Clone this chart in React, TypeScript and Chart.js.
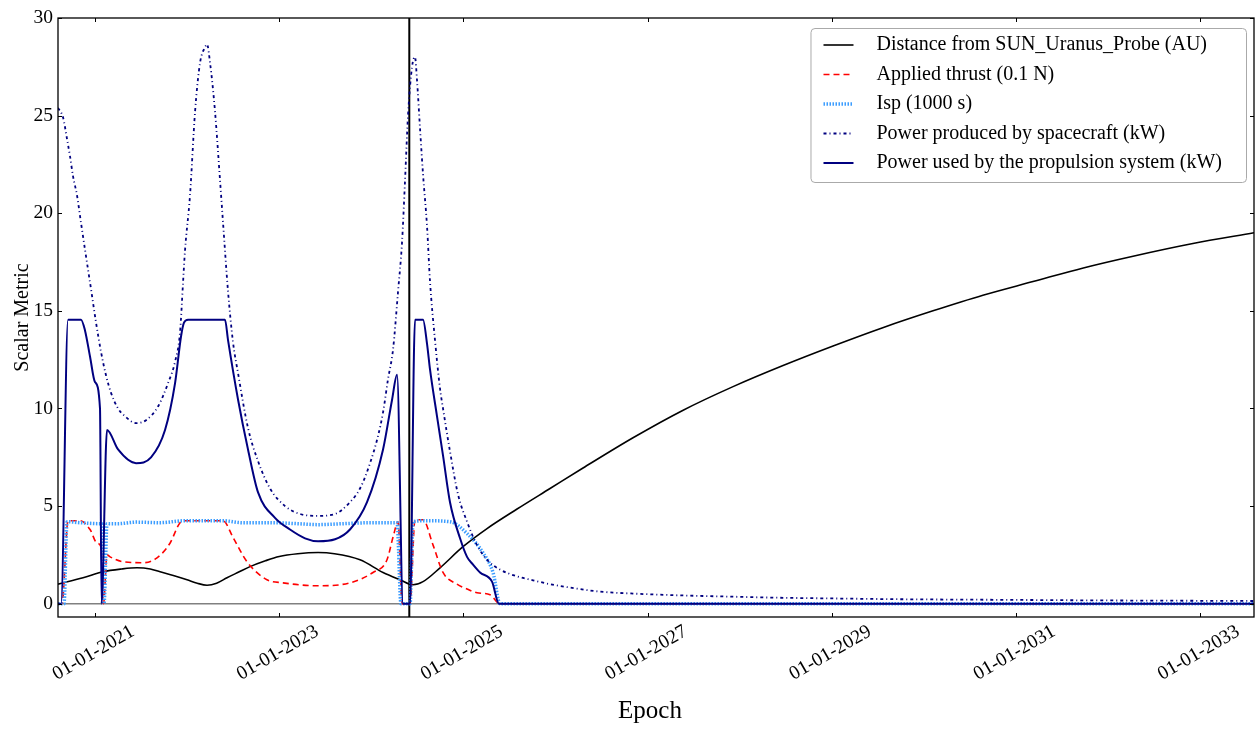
import React, { useEffect, useRef } from 'react';
import { Chart, registerables } from 'chart.js';

Chart.register(...registerables);

const FONT = '"Liberation Serif", "Times New Roman", serif';

// Axis ranges and ticks (x values are decimal years)
const X_MIN = 2020.598;
const X_MAX = 2033.583;
const Y_MIN = -0.68;
const Y_MAX = 30;
const X_TICKS = [2021, 2023, 2025, 2027, 2029, 2031, 2033];
const X_TICK_LABELS = X_TICKS.map((y) => `01-01-${y}`);
const Y_TICKS = [0, 5, 10, 15, 20, 25, 30];
const EVENT_EPOCH = 2024.412;
const X_TITLE = 'Epoch';
const Y_TITLE = 'Scalar Metric';

// Distance from SUN_Uranus_Probe (AU)
const distanceEpochs = [2020.598, 2020.870, 2021.087, 2021.290, 2021.456, 2021.600, 2021.706, 2021.850, 2021.999, 2022.110, 2022.216, 2022.320, 2022.433, 2022.560, 2022.683, 2022.850, 2023.000, 2023.200, 2023.421, 2023.600, 2023.877, 2024.127, 2024.311, 2024.453, 2024.561, 2024.746, 2024.995, 2025.256, 2025.582, 2025.940, 2026.298, 2026.841, 2027.380, 2027.927, 2028.470, 2029.013, 2029.560, 2030.098, 2030.640, 2031.184, 2031.730, 2032.270, 2032.920, 2033.583];
const distanceValues = [1.00, 1.33, 1.64, 1.78, 1.84, 1.78, 1.64, 1.45, 1.23, 1.05, 0.95, 1.05, 1.33, 1.62, 1.90, 2.20, 2.42, 2.56, 2.62, 2.56, 2.25, 1.60, 1.23, 0.97, 1.13, 1.84, 2.92, 3.85, 4.85, 5.90, 6.95, 8.50, 9.90, 11.12, 12.20, 13.20, 14.15, 15.00, 15.80, 16.50, 17.20, 17.80, 18.45, 19.00];

// Applied thrust (0.1 N)
const thrustEpochs = [2020.598, 2020.642, 2020.707, 2020.837, 2020.946, 2021.022, 2021.065, 2021.092, 2021.130, 2021.163, 2021.304, 2021.521, 2021.673, 2021.814, 2021.923, 2021.977, 2022.390, 2022.498, 2022.650, 2022.867, 2023.041, 2023.410, 2023.768, 2024.018, 2024.170, 2024.235, 2024.290, 2024.333, 2024.420, 2024.474, 2024.561, 2024.670, 2024.778, 2024.930, 2025.039, 2025.147, 2025.289, 2025.397, 2033.583];
const thrustValues = [0, 0, 4.25, 4.25, 3.8, 3.1, 2.9, 0, 2.5, 2.4, 2.15, 2.1, 2.35, 3.1, 4.15, 4.25, 4.25, 3.4, 2.15, 1.23, 1.07, 0.92, 1.07, 1.6, 2.25, 3.4, 4.2, 0, 0, 4.3, 4.3, 3.0, 1.6, 1.0, 0.75, 0.56, 0.46, 0, 0];

// Isp (1000 s)
const ispEpochs = [2020.598, 2020.663, 2020.696, 2020.837, 2021.054, 2021.076, 2021.098, 2021.130, 2021.250, 2021.450, 2021.700, 2021.977, 2022.390, 2022.600, 2022.900, 2023.200, 2023.420, 2023.700, 2024.000, 2024.279, 2024.322, 2024.420, 2024.453, 2024.600, 2024.854, 2025.039, 2025.213, 2025.321, 2025.397, 2033.583];
const ispValues = [0, 0, 4.2, 4.15, 4.1, 4.1, 0, 4.1, 4.1, 4.18, 4.15, 4.25, 4.25, 4.15, 4.15, 4.1, 4.05, 4.1, 4.15, 4.15, 0, 0, 4.2, 4.25, 4.2, 3.6, 2.6, 1.6, 0, 0];

// Power produced by spacecraft (kW)
const producedEpochs = [2020.598, 2020.653, 2020.696, 2020.729, 2020.761, 2020.805, 2020.848, 2020.902, 2020.957, 2021.011, 2021.065, 2021.119, 2021.174, 2021.250, 2021.326, 2021.445, 2021.554, 2021.684, 2021.793, 2021.869, 2021.923, 2021.955, 2021.977, 2022.031, 2022.086, 2022.140, 2022.194, 2022.216, 2022.249, 2022.303, 2022.357, 2022.390, 2022.444, 2022.498, 2022.553, 2022.661, 2022.770, 2022.900, 2023.063, 2023.226, 2023.421, 2023.606, 2023.768, 2023.877, 2023.986, 2024.073, 2024.127, 2024.181, 2024.235, 2024.290, 2024.333, 2024.366, 2024.398, 2024.442, 2024.474, 2024.496, 2024.529, 2024.561, 2024.605, 2024.637, 2024.691, 2024.746, 2024.778, 2024.854, 2024.941, 2025.039, 2025.147, 2025.267, 2025.397, 2025.582, 2025.755, 2025.940, 2026.125, 2026.483, 2026.841, 2027.210, 2027.568, 2027.927, 2028.383, 2028.839, 2029.740, 2030.826, 2031.912, 2032.997, 2033.583];
const producedValues = [25.4, 24.9, 23.8, 22.9, 21.9, 20.9, 19.5, 17.8, 16.1, 14.4, 12.9, 11.7, 10.8, 10.0, 9.6, 9.25, 9.4, 10.1, 11.3, 12.4, 13.9, 16.4, 18.1, 20.9, 25.2, 27.7, 28.5, 28.65, 27.7, 25.2, 21.7, 19.5, 16.0, 13.4, 11.8, 9.0, 7.3, 5.9, 5.0, 4.6, 4.5, 4.6, 5.2, 5.9, 7.2, 8.6, 9.8, 11.5, 13.0, 16.0, 18.5, 21.7, 25.0, 27.5, 28.0, 26.8, 24.3, 22.0, 19.3, 16.5, 13.5, 11.0, 10.0, 7.8, 5.6, 4.2, 3.0, 2.2, 1.75, 1.4, 1.2, 1.0, 0.85, 0.62, 0.52, 0.45, 0.40, 0.36, 0.31, 0.28, 0.23, 0.20, 0.17, 0.15, 0.14];

// Power used by the propulsion system (kW)
const usedEpochs = [2020.598, 2020.631, 2020.707, 2020.848, 2020.891, 2020.946, 2021.000, 2021.054, 2021.071, 2021.130, 2021.250, 2021.445, 2021.608, 2021.760, 2021.869, 2021.934, 2021.966, 2022.010, 2022.411, 2022.444, 2022.553, 2022.661, 2022.770, 2022.954, 2023.117, 2023.280, 2023.421, 2023.606, 2023.768, 2023.953, 2024.127, 2024.225, 2024.279, 2024.344, 2024.420, 2024.474, 2024.561, 2024.605, 2024.637, 2024.713, 2024.778, 2024.854, 2024.963, 2025.039, 2025.104, 2025.180, 2025.310, 2025.386, 2033.583];
const usedValues = [0, 0, 14.55, 14.55, 14.0, 12.65, 11.35, 10.0, 0, 8.9, 7.9, 7.2, 7.5, 8.9, 11.3, 13.7, 14.4, 14.55, 14.55, 13.5, 10.45, 7.9, 5.7, 4.4, 3.8, 3.35, 3.2, 3.3, 3.8, 5.2, 7.9, 10.45, 11.73, 0, 0, 14.55, 14.55, 13.3, 12.0, 9.6, 7.6, 5.2, 3.35, 2.4, 2.0, 1.6, 1.13, 0, 0];

const SERIES_LABELS = [
  'Distance from SUN_Uranus_Probe (AU)',
  'Applied thrust (0.1 N)',
  'Isp (1000 s)',
  'Power produced by spacecraft (kW)',
  'Power used by the propulsion system (kW)',
];

const toPoints = (xs: number[], ys: number[]) => xs.map((x, i) => ({ x, y: ys[i] }));

const decorPlugin = {
  id: 'decor',
  beforeDatasetsDraw(chart: any) {
    const { ctx, chartArea: a, scales } = chart;
    const x = scales.x;
    const y = scales.y;
    ctx.save();
    const y0 = y.getPixelForValue(0);
    ctx.strokeStyle = '#808080';
    ctx.lineWidth = 1.5;
    ctx.beginPath();
    ctx.moveTo(a.left, y0);
    ctx.lineTo(a.right, y0);
    ctx.stroke();
    const xe = x.getPixelForValue(EVENT_EPOCH);
    ctx.strokeStyle = '#000';
    ctx.lineWidth = 2;
    ctx.beginPath();
    ctx.moveTo(xe, a.top);
    ctx.lineTo(xe, a.bottom);
    ctx.stroke();
    ctx.restore();
  },
  afterDraw(chart: any) {
    const { ctx, chartArea: a, scales } = chart;
    const x = scales.x;
    const y = scales.y;
    ctx.save();
    // frame
    ctx.strokeStyle = '#000';
    ctx.lineWidth = 1.3;
    ctx.strokeRect(a.left, a.top, a.right - a.left, a.bottom - a.top);
    // inward ticks
    ctx.lineWidth = 1;
    const TL = 4;
    ctx.beginPath();
    X_TICKS.forEach((v) => {
      const px = Math.round(x.getPixelForValue(v)) + 0.5;
      ctx.moveTo(px, a.bottom);
      ctx.lineTo(px, a.bottom - TL);
      ctx.moveTo(px, a.top);
      ctx.lineTo(px, a.top + TL);
    });
    Y_TICKS.forEach((v) => {
      const py = Math.round(y.getPixelForValue(v)) + 0.5;
      ctx.moveTo(a.left, py);
      ctx.lineTo(a.left + TL, py);
      ctx.moveTo(a.right, py);
      ctx.lineTo(a.right - TL, py);
    });
    ctx.stroke();
    // x tick labels (rotated, centred)
    ctx.fillStyle = '#000';
    ctx.font = `19.5px ${FONT}`;
    ctx.textAlign = 'center';
    ctx.textBaseline = 'middle';
    X_TICKS.forEach((v, i) => {
      const px = x.getPixelForValue(v);
      ctx.save();
      ctx.translate(px - 1.5, a.bottom + 36);
      ctx.rotate(-Math.PI / 6);
      ctx.fillText(X_TICK_LABELS[i], 0, 0);
      ctx.restore();
    });
    // axis titles
    ctx.font = `25px ${FONT}`;
    ctx.textAlign = 'center';
    ctx.textBaseline = 'alphabetic';
    ctx.fillText(X_TITLE, 650, 718);
    ctx.save();
    ctx.font = `20px ${FONT}`;
    ctx.translate(28, (a.top + a.bottom) / 2);
    ctx.rotate(-Math.PI / 2);
    ctx.fillText(Y_TITLE, 0, 0);
    ctx.restore();
    // legend
    ctx.font = `20px ${FONT}`;
    const widths = chart.data.datasets.map((d: any) => ctx.measureText(d.label).width);
    const maxW = Math.max(...widths);
    const boxRight = a.right - 8;
    const boxTop = a.top + 10;
    const textX = boxRight - 24 - maxW;
    const boxLeft = textX - 66;
    const boxH = 154;
    ctx.fillStyle = 'rgba(255,255,255,0.85)';
    ctx.strokeStyle = '#aaaaaa';
    ctx.lineWidth = 1;
    ctx.beginPath();
    if (ctx.roundRect) {
      ctx.roundRect(boxLeft + 0.5, boxTop + 0.5, boxRight - boxLeft, boxH, 4);
    } else {
      ctx.rect(boxLeft + 0.5, boxTop + 0.5, boxRight - boxLeft, boxH);
    }
    ctx.fill();
    ctx.stroke();
    chart.data.datasets.forEach((d: any, i: number) => {
      const ry = boxTop + 17 + i * 29.5;
      ctx.save();
      ctx.strokeStyle = d.borderColor;
      ctx.lineWidth = d.borderWidth;
      ctx.setLineDash(d.borderDash || []);
      ctx.beginPath();
      ctx.moveTo(boxLeft + 13, ry);
      ctx.lineTo(boxLeft + 43, ry);
      ctx.stroke();
      ctx.restore();
      ctx.fillStyle = '#000';
      ctx.textAlign = 'left';
      ctx.textBaseline = 'middle';
      ctx.fillText(d.label, textX, ry);
    });
    ctx.restore();
  },
};

export default function App() {
  const canvasRef = useRef<HTMLCanvasElement | null>(null);

  useEffect(() => {
    const canvas = canvasRef.current;
    if (!canvas) return;
    const common = { pointRadius: 0, pointHoverRadius: 0, cubicInterpolationMode: 'monotone', fill: false };
    const chart = new Chart(canvas, {
      type: 'line',
      data: {
        datasets: [
          { ...common, label: SERIES_LABELS[0], data: toPoints(distanceEpochs, distanceValues), borderColor: '#000000', borderWidth: 1.6, borderDash: [], order: 5 },
          { ...common, label: SERIES_LABELS[1], data: toPoints(thrustEpochs, thrustValues), borderColor: '#ff0000', borderWidth: 1.6, borderDash: [6, 4], order: 4 },
          { ...common, label: SERIES_LABELS[2], data: toPoints(ispEpochs, ispValues), borderColor: '#3c9dff', borderWidth: 3.5, borderDash: [1.5, 1.5], order: 3 },
          { ...common, label: SERIES_LABELS[3], data: toPoints(producedEpochs, producedValues), borderColor: '#000080', borderWidth: 1.8, borderDash: [3, 3, 1, 3], order: 2 },
          { ...common, label: SERIES_LABELS[4], data: toPoints(usedEpochs, usedValues), borderColor: '#000080', borderWidth: 2, borderDash: [], order: 1 },
        ],
      },
      options: {
        animation: false,
        responsive: false,
        devicePixelRatio: 1,
        layout: { padding: { top: 18, right: 2, left: 0, bottom: 0 } },
        plugins: { legend: { display: false }, tooltip: { enabled: false }, title: { display: false } },
        events: [],
        scales: {
          x: {
            type: 'linear',
            min: X_MIN,
            max: X_MAX,
            grid: { display: false, drawTicks: false },
            border: { display: false },
            ticks: { display: false },
            afterBuildTicks: (s: any) => { s.ticks = X_TICKS.map((v) => ({ value: v })); },
            afterFit: (s: any) => { s.height = 113; },
          },
          y: {
            type: 'linear',
            min: Y_MIN,
            max: Y_MAX,
            grid: { display: false, drawTicks: false },
            border: { display: false },
            ticks: {
              padding: 5,
              color: '#000',
              font: { family: FONT, size: 19.5 },
              callback: (v: any) => String(v),
            },
            afterBuildTicks: (s: any) => { s.ticks = Y_TICKS.map((v) => ({ value: v })); },
            afterFit: (s: any) => { s.width = 58; },
          },
        },
      },
      plugins: [decorPlugin],
    } as any);
    return () => chart.destroy();
  }, []);

  return (
    <div style={{ position: 'fixed', left: 0, top: 0, width: 1256, height: 730, background: '#fff' }}>
      <canvas ref={canvasRef} width={1256} height={730} />
    </div>
  );
}
